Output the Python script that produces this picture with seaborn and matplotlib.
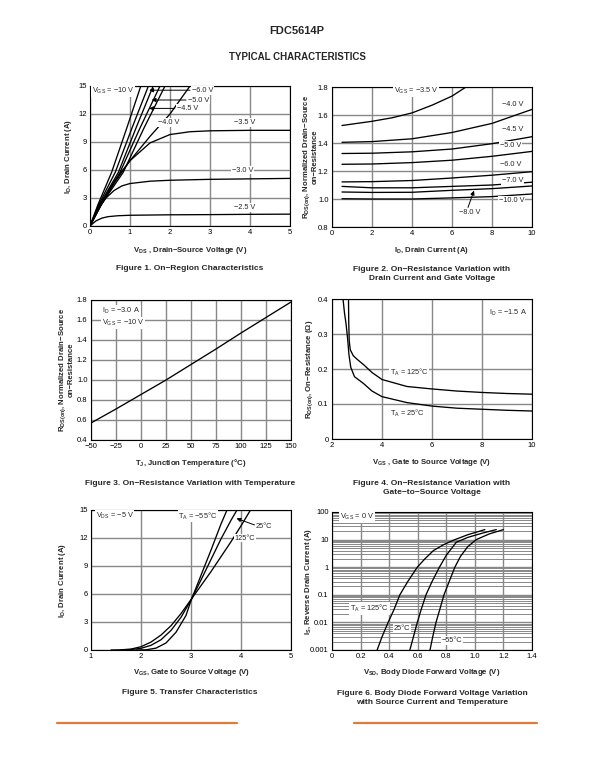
import matplotlib
matplotlib.use("Agg")
import matplotlib.pyplot as plt
from matplotlib.lines import Line2D
from matplotlib.ticker import MultipleLocator, FixedLocator, LogLocator, NullFormatter
import seaborn as sns

# Figure 1 - on-region characteristics, ID vs VDS, one list pair per VGS curve
f1_vds_10 = [0, 0.2, 0.54, 0.92, 1.27]
f1_id_10 = [0, 2.3, 5.75, 10.5, 15.0]
f1_vds_8 = [0, 0.22, 0.63, 1.05, 1.46]
f1_id_8 = [0, 2.3, 5.75, 10.5, 15.0]
f1_vds_6 = [0, 0.24, 0.71, 1.15, 1.58]
f1_id_6 = [0, 2.3, 5.75, 10.5, 15.0]
f1_vds_5 = [0, 0.26, 0.75, 1.25, 1.75]
f1_id_5 = [0, 2.3, 5.75, 10.5, 15.0]
f1_vds_45 = [0, 0.28, 0.83, 1.35, 1.875]
f1_id_45 = [0, 2.3, 5.75, 10.5, 15.0]
f1_vds_4 = [0, 0.3, 0.6, 1.0, 1.5, 2.0, 2.5]
f1_id_4 = [0, 2.4, 4.6, 7.0, 9.6, 12.0, 15.0]
f1_vds_35 = [0, 0.25, 0.5, 0.75, 1.0, 1.5, 2.0, 2.5, 3.0, 4.0, 5.0]
f1_id_35 = [0, 2.1, 3.9, 5.6, 7.0, 8.9, 9.8, 10.1, 10.2, 10.25, 10.25]
f1_vds_3 = [0, 0.2, 0.4, 0.6, 0.8, 1.0, 1.5, 2.0, 3.0, 4.0, 5.0]
f1_id_3 = [0, 1.8, 3.0, 3.8, 4.3, 4.55, 4.8, 4.9, 5.0, 5.05, 5.1]
f1_vds_25 = [0, 0.15, 0.3, 0.45, 0.7, 1.0, 2.0, 3.0, 4.0, 5.0]
f1_id_25 = [0, 0.55, 0.85, 1.0, 1.1, 1.15, 1.2, 1.22, 1.25, 1.27]

# Figure 2 - normalized RDS(on) vs ID
f2_id = [0.5, 2, 4, 6, 8, 10]
f2_id_35 = [0.5, 1, 2, 3, 4, 5, 6, 6.7]
f2_r_35 = [1.525, 1.535, 1.555, 1.58, 1.615, 1.67, 1.735, 1.80]
f2_r_4 = [1.405, 1.41, 1.43, 1.475, 1.54, 1.64]
f2_r_45 = [1.325, 1.327, 1.337, 1.357, 1.395, 1.445]
f2_r_5 = [1.248, 1.25, 1.26, 1.277, 1.305, 1.34]
f2_r_6 = [1.122, 1.124, 1.132, 1.15, 1.17, 1.195]
f2_r_7 = [1.09, 1.08, 1.08, 1.09, 1.10, 1.12]
f2_r_8 = [1.05, 1.047, 1.048, 1.062, 1.074, 1.093]
f2_r_10 = [1.002, 1.0, 1.0, 1.008, 1.017, 1.036]

# Figure 3 - normalized RDS(on) vs junction temperature
f3_tj = [-50, -25, 0, 25, 50, 75, 100, 125, 150]
f3_r = [0.57, 0.71, 0.855, 1.0, 1.155, 1.31, 1.47, 1.625, 1.78]

# Figure 4 - RDS(on) vs VGS
f4_vgs_125 = [2.66, 2.67, 2.69, 2.73, 2.85, 3.0, 3.27, 3.6, 4.0, 5, 6, 7, 8, 9, 10]
f4_r_125 = [0.40, 0.33, 0.28, 0.255, 0.238, 0.228, 0.212, 0.19, 0.17, 0.15, 0.143, 0.137, 0.133, 0.13, 0.128]
f4_vgs_25 = [2.44, 2.5, 2.56, 2.62, 2.68, 2.75, 2.9, 3.27, 3.6, 4, 5, 6, 7, 8, 9, 10]
f4_r_25 = [0.40, 0.36, 0.33, 0.29, 0.24, 0.205, 0.178, 0.158, 0.137, 0.121, 0.104, 0.094, 0.088, 0.085, 0.082, 0.08]

# Figure 5 - transfer characteristics
f5_vgs_125 = [1.4, 1.6, 1.8, 2.0, 2.2, 2.4, 2.6, 2.8, 3.0, 3.2, 3.4, 3.6, 3.8, 4.0, 4.19]
f5_id_125 = [0.0, 0.02, 0.1, 0.35, 0.85, 1.6, 2.6, 3.9, 5.4, 6.9, 8.4, 10.0, 11.6, 13.3, 15.0]
f5_vgs_25 = [1.6, 1.8, 2.0, 2.2, 2.4, 2.6, 2.8, 3.0, 3.2, 3.4, 3.6, 3.8, 3.92]
f5_id_25 = [0.0, 0.05, 0.18, 0.5, 1.1, 2.1, 3.5, 5.35, 7.5, 9.7, 11.9, 13.9, 15.0]
f5_vgs_m55 = [1.9, 2.1, 2.3, 2.5, 2.7, 2.9, 3.0, 3.2, 3.4, 3.6, 3.72]
f5_id_m55 = [0.0, 0.02, 0.2, 0.75, 1.9, 3.7, 5.3, 8.0, 10.7, 13.5, 15.0]

# Figure 6 - body diode forward voltage
f6_vsd_125 = [0.316, 0.35, 0.393, 0.435, 0.475, 0.53, 0.597, 0.65, 0.71, 0.78, 0.85, 0.95, 1.07]
f6_is_125 = [0.001, 0.003, 0.01, 0.03, 0.1, 0.3, 1, 2, 4, 6.5, 9.5, 15, 23]
f6_vsd_25 = [0.545, 0.57, 0.597, 0.625, 0.658, 0.7, 0.752, 0.8, 0.87, 0.95, 1.05, 1.15]
f6_is_25 = [0.001, 0.003, 0.01, 0.03, 0.1, 0.3, 1, 2.7, 8, 12, 17, 23]
f6_vsd_m55 = [0.686, 0.705, 0.728, 0.755, 0.784, 0.82, 0.86, 0.9, 0.95, 1.01, 1.1, 1.2]
f6_is_m55 = [0.001, 0.003, 0.01, 0.03, 0.1, 0.3, 1, 2.5, 5.5, 10, 16, 23]

sns.set_style("white")
plt.rcParams["font.family"] = ["Liberation Sans", "DejaVu Sans"]
plt.rcParams["mathtext.fontset"] = "custom"
plt.rcParams["mathtext.rm"] = "Liberation Sans"
plt.rcParams["mathtext.default"] = "regular"

W, H = 595, 770
fig = plt.figure(figsize=(W / 100, H / 100), dpi=100)
fig.patch.set_facecolor("white")


def fx(x):
    return x / W


def fy(y):
    return 1 - y / H


def panel(left, top, right, bottom):
    ax = fig.add_axes([fx(left), fy(bottom), (right - left) / W, (bottom - top) / H])
    ax.set_facecolor("white")
    for sp in ax.spines.values():
        sp.set_visible(True)
        sp.set_color("black")
        sp.set_linewidth(0.8)
    ax.grid(True, which="major", color="#888888", linewidth=1.0)
    ax.set_axisbelow(True)
    ax.tick_params(which="both", direction="in", labelsize=5.5, pad=2.5, width=0.6, colors="black")
    ax.tick_params(which="major", length=2.5)
    ax.tick_params(which="minor", length=1.5)
    return ax


def curve(ax, x, y):
    sns.lineplot(x=x, y=y, ax=ax, color="black", linewidth=0.95, sort=False, estimator=None)


def tag(ax, x, y, s):
    ax.text(x, y, s, fontsize=5.3, ha="left", va="center", zorder=6,
            bbox=dict(facecolor="white", edgecolor="none", pad=0.6))


def pointer(ax, start, end):
    ax.annotate("", xy=end, xytext=start, zorder=7,
                arrowprops=dict(arrowstyle="-|>", color="black", lw=0.7,
                                mutation_scale=6, shrinkA=0, shrinkB=0))


def xcap(x, y, s):
    fig.text(fx(x), fy(y), s, ha="center", va="center", fontsize=5.6, fontweight="bold")


def ycap(x, y, s):
    fig.text(fx(x), fy(y), s, ha="center", va="center", rotation=90, fontsize=5.6,
             fontweight="bold", linespacing=1.1, multialignment="center")


def caption(x, y, s):
    fig.text(fx(x), fy(y), s, ha="center", va="center", fontsize=6, fontweight="bold",
             linespacing=1.25, multialignment="center")


# page heading
fig.text(fx(297), fy(31), "FDC5614P", ha="center", va="center", fontsize=8, fontweight="bold")
fig.text(fx(297), fy(57), "TYPICAL CHARACTERISTICS", ha="center", va="center", fontsize=7, fontweight="bold")

# ---- Figure 1 ----
ax1 = panel(90, 86, 290, 226)
for x, y in [(f1_vds_10, f1_id_10), (f1_vds_8, f1_id_8), (f1_vds_6, f1_id_6), (f1_vds_5, f1_id_5),
             (f1_vds_45, f1_id_45), (f1_vds_4, f1_id_4), (f1_vds_35, f1_id_35),
             (f1_vds_3, f1_id_3), (f1_vds_25, f1_id_25)]:
    curve(ax1, x, y)
ax1.set_xlim(0, 5)
ax1.set_ylim(0, 15)
ax1.xaxis.set_major_locator(MultipleLocator(1))
ax1.yaxis.set_major_locator(MultipleLocator(3))
ax1.xaxis.set_minor_locator(MultipleLocator(0.5))
ax1.yaxis.set_minor_locator(MultipleLocator(1.5))
tag(ax1, 0.05, 14.5, "V$_{GS}$ = −10 V")
tag(ax1, 2.55, 14.55, "−6.0 V")
tag(ax1, 2.45, 13.5, "−5.0 V")
tag(ax1, 2.17, 12.6, "−4.5 V")
tag(ax1, 1.7, 11.1, "−4.0 V")
tag(ax1, 3.6, 11.1, "−3.5 V")
tag(ax1, 3.55, 6.0, "−3.0 V")
tag(ax1, 3.6, 2.0, "−2.5 V")
pointer(ax1, (2.5, 14.55), (1.48, 14.55))
pointer(ax1, (2.4, 13.5), (1.54, 13.5))
pointer(ax1, (2.12, 12.6), (1.48, 12.6))
ax1.set_xlabel("")
ax1.set_ylabel("")
xcap(190, 251, "V$_{DS}$ , Drain−Source Voltage (V)")
ycap(68, 156, "I$_{D}$, Drain Current (A)")
caption(190, 268, "Figure 1. On−Region Characteristics")

# ---- Figure 2 ----
ax2 = panel(332, 87, 532, 227)
curve(ax2, f2_id_35, f2_r_35)
for r in [f2_r_4, f2_r_45, f2_r_5, f2_r_6, f2_r_7, f2_r_8, f2_r_10]:
    curve(ax2, f2_id, r)
ax2.set_xlim(0, 10)
ax2.set_ylim(0.8, 1.8)
ax2.xaxis.set_major_locator(MultipleLocator(2))
ax2.xaxis.set_minor_locator(MultipleLocator(1))
ax2.yaxis.set_minor_locator(MultipleLocator(0.1))
ax2.set_yticks([0.8, 1.0, 1.2, 1.4, 1.6, 1.8])
ax2.set_yticklabels(["0.8", "1.0", "1.2", "1.4", "1.6", "1.8"])
tag(ax2, 3.1, 1.77, "V$_{GS}$ = −3.5 V")
tag(ax2, 8.5, 1.675, "−4.0 V")
tag(ax2, 8.5, 1.496, "−4.5 V")
tag(ax2, 8.4, 1.38, "−5.0 V")
tag(ax2, 8.4, 1.245, "−6.0 V")
tag(ax2, 8.5, 1.13, "−7.0 V")
tag(ax2, 8.35, 0.99, "−10.0 V")
tag(ax2, 6.35, 0.905, "−8.0 V")
pointer(ax2, (6.8, 0.94), (7.1, 1.06))
ax2.set_xlabel("")
ax2.set_ylabel("")
xcap(432, 250, "I$_{D}$, Drain Current (A)")
ycap(310, 157, "R$_{DS(on)}$, Normalized Drain−Source\non−Resistance")
caption(432, 274, "Figure 2. On−Resistance Variation with\nDrain Current and Gate Voltage")

# ---- Figure 3 ----
ax3 = panel(91, 300, 291, 440)
curve(ax3, f3_tj, f3_r)
ax3.set_xlim(-50, 150)
ax3.set_ylim(0.4, 1.8)
ax3.xaxis.set_major_locator(MultipleLocator(25))
ax3.xaxis.set_minor_locator(MultipleLocator(5))
ax3.yaxis.set_minor_locator(MultipleLocator(0.1))
ax3.set_yticks([0.4, 0.6, 0.8, 1.0, 1.2, 1.4, 1.6, 1.8])
ax3.set_yticklabels(["0.4", "0.6", "0.8", "1.0", "1.2", "1.4", "1.6", "1.8"])
tag(ax3, -39, 1.69, "I$_{D}$ = −3.0 A")
tag(ax3, -39, 1.57, "V$_{GS}$ = −10 V")
ax3.set_xlabel("")
ax3.set_ylabel("")
xcap(191, 463, "T$_{J}$, Junction Temperature (°C)")
ycap(66, 370, "R$_{DS(on)}$, Normalized Drain−Source\non−Resistance")
caption(190, 483, "Figure 3. On−Resistance Variation with Temperature")

# ---- Figure 4 ----
ax4 = panel(332, 299, 532, 439)
curve(ax4, f4_vgs_125, f4_r_125)
curve(ax4, f4_vgs_25, f4_r_25)
ax4.set_xlim(2, 10)
ax4.set_ylim(0, 0.4)
ax4.xaxis.set_major_locator(MultipleLocator(2))
ax4.xaxis.set_minor_locator(MultipleLocator(1))
ax4.yaxis.set_minor_locator(MultipleLocator(0.05))
ax4.set_yticks([0, 0.1, 0.2, 0.3, 0.4])
ax4.set_yticklabels(["0", "0.1", "0.2", "0.3", "0.4"])
tag(ax4, 8.27, 0.36, "I$_{D}$ = −1.5 A")
tag(ax4, 4.3, 0.19, "T$_{A}$ = 125°C")
tag(ax4, 4.3, 0.074, "T$_{A}$ = 25°C")
ax4.set_xlabel("")
ax4.set_ylabel("")
xcap(432, 463, "V$_{GS}$ , Gate to Source Voltage (V)")
ycap(310, 369, "R$_{DS(on)}$, On−Resistance (Ω)")
caption(432, 488, "Figure 4. On−Resistance Variation with\nGate−to−Source Voltage")

# ---- Figure 5 ----
ax5 = panel(91, 510, 291, 650)
curve(ax5, f5_vgs_125, f5_id_125)
curve(ax5, f5_vgs_25, f5_id_25)
curve(ax5, f5_vgs_m55, f5_id_m55)
ax5.set_xlim(1, 5)
ax5.set_ylim(0, 15)
ax5.xaxis.set_major_locator(MultipleLocator(1))
ax5.yaxis.set_major_locator(MultipleLocator(3))
ax5.xaxis.set_minor_locator(MultipleLocator(0.5))
ax5.yaxis.set_minor_locator(MultipleLocator(1.5))
tag(ax5, 1.09, 14.35, "V$_{DS}$ = −5 V")
tag(ax5, 2.75, 14.35, "T$_{A}$ = −55°C")
tag(ax5, 4.29, 13.2, "25°C")
tag(ax5, 3.87, 12.0, "125°C")
pointer(ax5, (4.27, 13.4), (3.91, 14.1))
ax5.set_xlabel("")
ax5.set_ylabel("")
xcap(191, 673, "V$_{GS}$, Gate to Source Voltage (V)")
ycap(62, 580, "I$_{D}$, Drain Current (A)")
caption(190, 693, "Figure 5. Transfer Characteristics")

# ---- Figure 6 ----
ax6 = panel(332, 512, 532, 650)
curve(ax6, f6_vsd_125, f6_is_125)
curve(ax6, f6_vsd_25, f6_is_25)
curve(ax6, f6_vsd_m55, f6_is_m55)
ax6.set_yscale("log")
ax6.set_xlim(0, 1.4)
ax6.set_ylim(0.001, 100)
ax6.set_xticks([0, 0.2, 0.4, 0.6, 0.8, 1.0, 1.2, 1.4])
ax6.set_xticklabels(["0", "0.2", "0.4", "0.6", "0.8", "1.0", "1.2", "1.4"])
ax6.yaxis.set_major_locator(FixedLocator([0.001, 0.01, 0.1, 1, 10, 100]))
ax6.set_yticklabels(["0.001", "0.01", "0.1", "1", "10", "100"])
ax6.yaxis.set_minor_locator(LogLocator(base=10, subs=range(2, 10)))
ax6.yaxis.set_minor_formatter(NullFormatter())
ax6.grid(True, which="minor", axis="y", color="#888888", linewidth=0.7)
tag(ax6, 0.055, 66, "V$_{GS}$ = 0 V")
tag(ax6, 0.126, 0.032, "T$_{A}$ = 125°C")
tag(ax6, 0.43, 0.006, "25°C")
tag(ax6, 0.77, 0.0022, "−55°C")
ax6.set_xlabel("")
ax6.set_ylabel("")
xcap(432, 673, "V$_{SD}$, Body Diode Forward Voltage (V)")
ycap(309, 581, "I$_{S}$, Reverse Drain Current (A)")
caption(432, 698, "Figure 6. Body Diode Forward Voltage Variation\nwith Source Current and Temperature")

# orange rules at the bottom of the page
fig.add_artist(Line2D([fx(57), fx(237)], [fy(723), fy(723)], transform=fig.transFigure,
                      color="#e07b39", linewidth=1.6))
fig.add_artist(Line2D([fx(354), fx(537)], [fy(723), fy(723)], transform=fig.transFigure,
                      color="#e07b39", linewidth=1.6))

fig.savefig("out.png", dpi=100, facecolor="white")
